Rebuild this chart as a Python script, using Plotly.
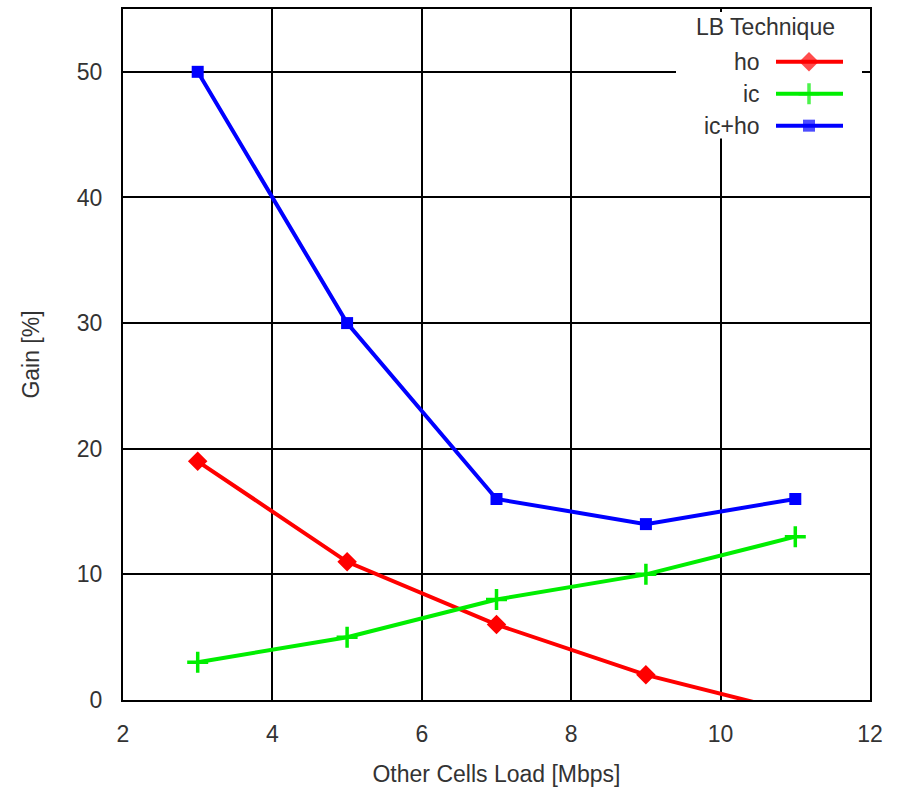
import plotly.graph_objects as go

# Other cells load (Mbps) and gain (%) per load-balancing technique
load = [3, 5, 7, 9, 11]
gain_ho = [19, 11, 6, 2, -1]
gain_ic = [3, 5, 8, 10, 13]
gain_ic_ho = [50, 30, 16, 14, 16]

series_names = ["ho", "ic", "ic+ho"]
series_colors = ["#ff0000", "#00ee00", "#0000ff"]
series_symbols = ["diamond", "cross-thin", "square"]
series_sizes = [15, 15, 12]

x_ticks = [2, 4, 6, 8, 10, 12]
y_ticks = [0, 10, 20, 30, 40, 50]
X_RANGE = [2, 12]
Y_RANGE = [0, 55]

FONT = "Liberation Sans, Arial, sans-serif"
TXT = "#333333"
FS = 23
LW = 4

# plot-area edges in pixels
PX_L, PX_R, PX_T, PX_B = 123, 870, 7, 700


def px_to_x(px):
    return X_RANGE[0] + (px - PX_L) / (PX_R - PX_L) * (X_RANGE[1] - X_RANGE[0])


def px_to_y(py):
    return Y_RANGE[0] + (PX_B - py) / (PX_B - PX_T) * (Y_RANGE[1] - Y_RANGE[0])


fig = go.Figure()

for name, ys, col, sym, sz in zip(series_names, [gain_ho, gain_ic, gain_ic_ho],
                                  series_colors, series_symbols, series_sizes):
    fig.add_trace(go.Scatter(
        x=load, y=ys, mode="lines+markers", name=name,
        line=dict(color=col, width=LW),
        marker=dict(symbol=sym, size=sz, color=col,
                    line=dict(color=col, width=3.5 if sym == "cross-thin" else 0)),
        showlegend=False, cliponaxis=True,
    ))

# Hand-built legend (label on the left, sample on the right) on a pixel-scaled overlay axis
leg_rows_y = [60, 92, 124]
line_x0, line_x1, mark_x = 776, 843, 809
for name, col, sym, sz, ry in zip(series_names, series_colors, series_symbols,
                                  series_sizes, leg_rows_y):
    fig.add_trace(go.Scatter(
        x=[line_x0, mark_x, line_x1], y=[ry, ry, ry], xaxis="x2", yaxis="y2",
        mode="lines+markers", line=dict(color=col, width=LW),
        marker=dict(symbol=sym, size=[0, sz, 0], color=col,
                    line=dict(color=col, width=3.5 if sym == "cross-thin" else 0)),
        showlegend=False, hoverinfo="skip",
    ))
    fig.add_annotation(x=762, y=ry, xref="x2", yref="y2", text=name,
                       showarrow=False, xanchor="right", yanchor="middle",
                       font=dict(family=FONT, size=FS, color=TXT))

fig.add_annotation(x=765, y=25, xref="x2", yref="y2", text="LB Technique",
                   showarrow=False, xanchor="center", yanchor="middle",
                   font=dict(family=FONT, size=FS, color=TXT))

# white legend backdrop hiding the grid behind it
fig.add_shape(type="rect", xref="x", yref="y",
              x0=px_to_x(676), x1=px_to_x(862), y0=px_to_y(137), y1=px_to_y(10),
              fillcolor="white", line=dict(width=0), layer="between")

fig.update_layout(
    width=902, height=790,
    margin=dict(l=PX_L, r=902 - PX_R, t=PX_T, b=790 - PX_B),
    paper_bgcolor="white", plot_bgcolor="white",
    font=dict(family=FONT, size=FS, color=TXT),
    xaxis=dict(range=X_RANGE, tickvals=x_ticks, showgrid=True, gridcolor="black",
               gridwidth=1.6, zeroline=False, showline=True, linecolor="black",
               linewidth=2, mirror=True, ticks="", ticklabelstandoff=12,
               title=dict(text="Other Cells Load [Mbps]", standoff=20,
                          font=dict(size=FS, color=TXT)),
               tickfont=dict(size=FS, color=TXT)),
    yaxis=dict(range=Y_RANGE, tickvals=y_ticks, showgrid=True, gridcolor="black",
               gridwidth=1.6, zeroline=False, showline=True, linecolor="black",
               linewidth=2, mirror=True, ticks="", ticklabelstandoff=14,
               title=dict(text="Gain [%]", standoff=31,
                          font=dict(size=FS, color=TXT)),
               tickfont=dict(size=FS, color=TXT)),
    xaxis2=dict(range=[PX_L, PX_R], overlaying="x", visible=False, showgrid=False),
    yaxis2=dict(range=[PX_B, PX_T], overlaying="y", visible=False, showgrid=False),
)

fig.write_html("out.html")
